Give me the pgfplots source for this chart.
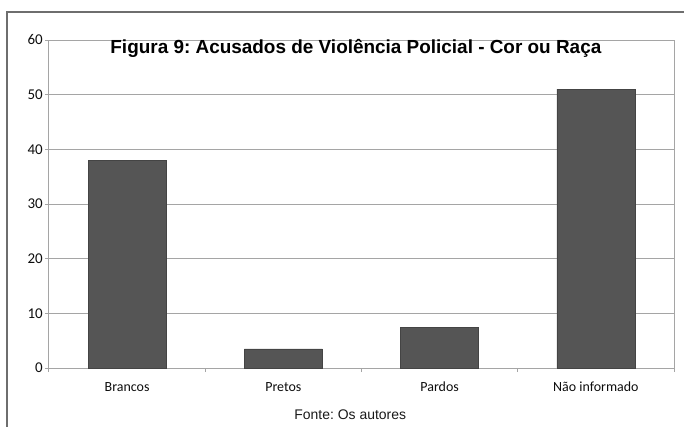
\documentclass[border=0pt]{standalone}
\usepackage{pgfplots}
\pgfplotsset{compat=1.18}
\usepackage{fontspec}
\setmainfont{Carlito}
\newfontfamily\arial{Liberation Sans}
\frenchspacing
\definecolor{barfill}{RGB}{85,85,85}
\definecolor{gridgray}{RGB}{165,165,165}
\definecolor{framegray}{RGB}{110,110,110}
\begin{document}
\begin{tikzpicture}
\useasboundingbox (-49bp,-59bp) rectangle (635bp,368bp);
\draw[framegray, line width=1.2bp] (-42bp,-60bp) -- (-42bp,356bp) -- (636bp,356bp);
\begin{axis}[
    scale only axis,
    width=625bp, height=328bp,
    ybar,
    bar width=0.5,
    xmin=-0.5, xmax=3.5,
    ymin=0, ymax=60,
    xtick={0,1,2,3},
    xticklabels={Brancos, Pretos, Pardos, Não informado},
    minor xtick={-0.5,0.5,1.5,2.5,3.5},
    ytick={0,10,...,60},
    xtick pos=bottom, ytick pos=left,
    major x tick style={draw=none},
    tick align=outside,
    major tick length=4bp, minor tick length=4bp,
    every tick/.style={gridgray, line width=1bp},
    axis line style={gridgray, line width=1bp},
    ymajorgrids,
    major grid style={gridgray, line width=1bp},
    tick label style={font=\fontsize{14}{16}\selectfont, black!95},
    y tick label style={font=\fontsize{15}{17}\selectfont, inner sep=2bp},
    /pgf/number format/assume math mode=true,
    x tick label style={text height=10bp, text depth=3bp, yshift=-6bp},
    clip=false,
]
\addplot[fill=barfill, draw=barfill!80!black] coordinates {
    (0, 38)
    (1, 3.5)
    (2, 7.5)
    (3, 51)
};
\node[anchor=base, font=\arial\bfseries\fontsize{19}{22}\selectfont] at (rel axis cs:0.491,0.960) {Figura 9: Acusados de Violência Policial - Cor ou Raça};
\node[anchor=base, font=\arial\fontsize{14}{16}\selectfont, black!90] at (rel axis cs:0.482,-0.1585) {Fonte: Os autores};
\end{axis}
\end{tikzpicture}
\end{document}
